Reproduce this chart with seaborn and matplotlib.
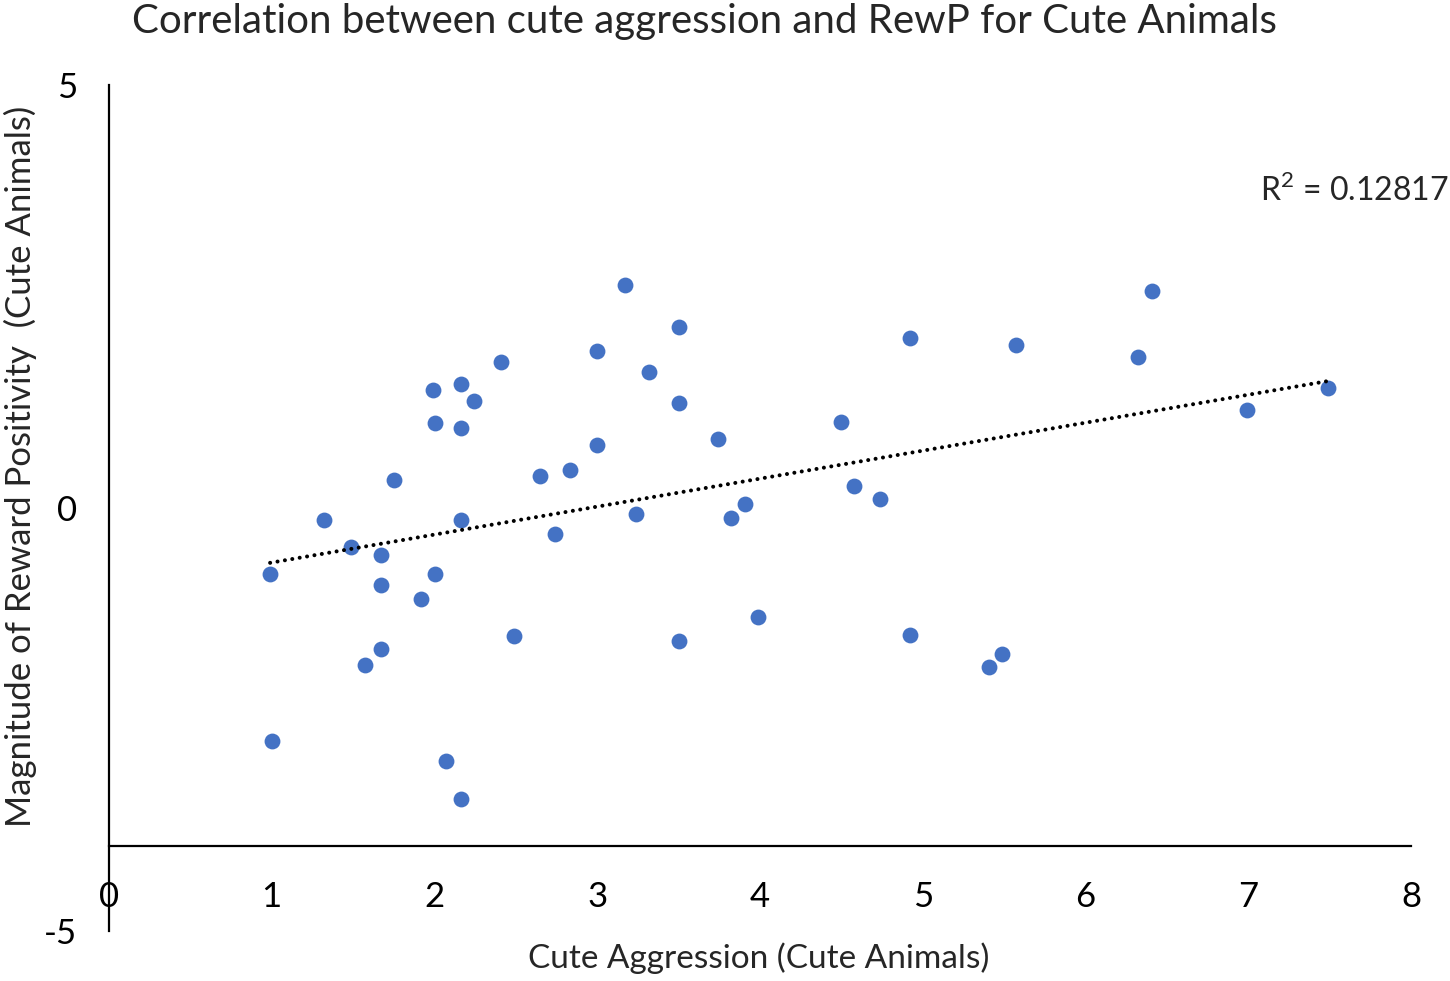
#!/usr/bin/env python
# coding: utf-8

import matplotlib
matplotlib.use("Agg")
import matplotlib.pyplot as plt
import pandas as pd
import seaborn as sns
import numpy as np

sns.set_style("white")
plt.rcParams['font.family'] = ['Lato', 'DejaVu Sans']
plt.rcParams['axes.unicode_minus'] = False
plt.rcParams['mathtext.fontset'] = 'custom'
plt.rcParams['mathtext.rm'] = 'Lato'

# Data
cute_aggression = [0.99, 1.00, 1.32, 1.49, 1.57, 1.67, 1.67, 1.67, 1.75, 1.92,
                   1.99, 2.00, 2.00, 2.07, 2.16, 2.16, 2.16, 2.16, 2.24, 2.41,
                   2.49, 2.65, 2.74, 2.83, 3.00, 3.00, 3.17, 3.24, 3.32, 3.50,
                   3.50, 3.50, 3.74, 3.82, 3.91, 3.99, 4.50, 4.58, 4.74, 4.92,
                   4.92, 5.41, 5.49, 5.57, 6.32, 6.41, 6.99, 7.49]
rewp = [-0.78, -2.75, -0.14, -0.46, -1.86, -0.56, -0.91, -1.67, 0.33, -1.08,
        1.40, 1.01, -0.78, -2.99, 1.46, 0.95, -0.14, -3.44, 1.27, 1.72,
        -1.51, 0.38, -0.31, 0.45, 1.85, 0.75, 2.64, -0.07, 1.61, 2.14,
        1.24, -1.57, 0.82, -0.12, 0.05, -1.29, 1.02, 0.26, 0.11, 2.01,
        -1.50, -1.88, -1.73, 1.93, 1.79, 2.57, 1.16, 1.42]
x_ticks = [0, 1, 2, 3, 4, 5, 6, 7, 8]
y_ticks = [-5, 0, 5]
r2_label = r"R$^\mathrm{2}$ = 0.12817"

df = pd.DataFrame({'cute_aggression': cute_aggression, 'rewp': rewp})

fig = plt.figure(figsize=(14.5, 9.81), dpi=100)
ax = fig.add_axes([109 / 1450, 1 - 931 / 981, 1302 / 1450, 846 / 981])

sns.regplot(data=df, x='cute_aggression', y='rewp', ci=None, ax=ax,
            scatter_kws={'s': 130, 'color': '#4472C4', 'linewidths': 0, 'alpha': 1},
            line_kws={'color': 'black', 'lw': 2.9, 'dashes': (0.01, 1.85),
                      'dash_capstyle': 'round'})

ax.set_xlim(0, 8)
ax.set_ylim(-5, 5)
ax.set_xticks(x_ticks)
ax.set_yticks(y_ticks)
ax.tick_params(axis='both', length=0, labelsize=25, colors='black')
ax.tick_params(axis='x', pad=25)
ax.tick_params(axis='y', pad=23)
ax.set_xlabel('')
ax.set_ylabel('')

# axes like in Excel: horizontal axis crosses at -4
for side in ['top', 'right']:
    ax.spines[side].set_visible(False)
ax.spines['bottom'].set_position(('data', -4))
ax.spines['left'].set_color('black')
ax.spines['bottom'].set_color('black')
ax.spines['left'].set_linewidth(1.6)
ax.spines['bottom'].set_linewidth(1.6)

ax.text(7.07, 3.75, r2_label, ha='left', va='center', fontsize=23, clip_on=False)

fig.text(704 / 1450, 1 - 21 / 981, 'Correlation between cute aggression and RewP for Cute Animals',
         ha='center', va='center', fontsize=29)
fig.text(759 / 1450, 1 - 958 / 981, 'Cute Aggression (Cute Animals)',
         ha='center', va='center', fontsize=24)
fig.text(20 / 1450, 1 - 466 / 981, 'Magnitude of Reward Positivity  (Cute Animals)',
         ha='center', va='center', rotation=90, fontsize=25)

fig.savefig('out.png', dpi=100)
